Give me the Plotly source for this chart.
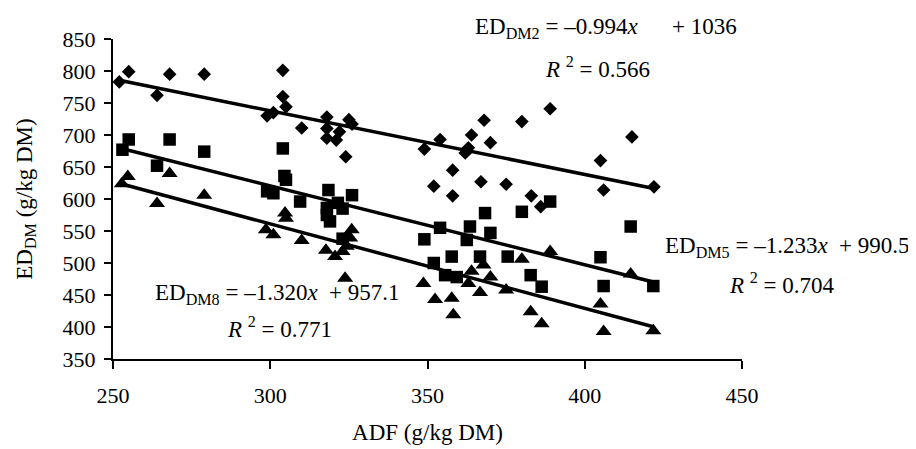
import plotly.graph_objects as go

# ---- data (ADF g/kg DM, ED g/kg DM) ----
dm2_x = [252, 255, 264, 268, 279, 299, 301, 304, 304, 305, 310, 318, 318, 318, 321, 322, 324, 325, 326,
         349, 352, 354, 358, 358, 362, 363, 364, 367, 368, 370, 375, 380, 383, 386, 389, 405, 406, 415, 422]
dm2_y = [783, 799, 762, 795, 795, 730, 735, 801, 760, 744, 711, 728, 710, 695, 692, 705, 666, 724, 717,
         678, 620, 693, 645, 605, 672, 680, 700, 627, 723, 688, 623, 721, 605, 588, 741, 660, 614, 697, 619]

dm5_x = [253, 255, 264, 268, 279, 304, 304.5, 305, 299, 301, 309.5, 318.5, 318, 318, 319, 321.5, 323, 326, 323,
         349, 354, 352, 357.7, 355.6, 359.3, 363.5, 362.5, 368.3, 370, 366.7, 375.5, 380, 389, 382.8, 386.3,
         414.6, 405, 406, 421.8]
dm5_y = [677, 693, 652, 693, 674, 679, 636, 630, 612, 609, 596, 614, 586, 575, 565, 594, 585, 606, 538,
         537, 555, 500, 510, 481, 478, 557, 536, 578, 547, 510, 510, 580, 596, 481, 463,
         557, 509, 464, 464]

dm8_x = [252.8, 254.7, 264, 268, 279, 298.6, 301, 304.7, 305, 310, 317.7, 320.6, 323.8, 325.9, 325.4, 324.3, 323,
         348.7, 352.4, 357.7, 358.2, 364, 363, 366.7, 370, 375, 367.8, 380, 389, 382.8, 386.3, 405, 406,
         414.6, 421.8]
dm8_y = [624, 635, 593, 640, 606, 552, 544, 578, 570, 535, 520, 510, 476, 552, 539, 526, 518,
         468, 443, 445, 419, 487, 468, 454, 478, 458, 497, 506, 518, 424, 405, 436, 393,
         483, 394]

# regression coefficients (slope, intercept, R^2)
fits = {
    "DM2": (-0.994, 1036, 0.566),
    "DM5": (-1.233, 990.5, 0.704),
    "DM8": (-1.320, 957.1, 0.771),
}

x_ticks = [250, 300, 350, 400, 450]
y_ticks = [350, 400, 450, 500, 550, 600, 650, 700, 750, 800, 850]

FONT = "Liberation Serif, Times New Roman, serif"

fig = go.Figure()

series = [
    ("DM2", dm2_x, dm2_y, "diamond", 10.5),
    ("DM5", dm5_x, dm5_y, "square", 12.5),
    ("DM8", dm8_x, dm8_y, "triangle-up", 14),
]
for name, xs, ys, sym, sz in series:
    fig.add_trace(go.Scatter(x=xs, y=ys, mode="markers", name=name,
                             marker=dict(symbol=sym, size=sz, color="black",
                                         line=dict(width=0)),
                             showlegend=False, cliponaxis=False))
for name, xs, ys, sym, sz in series:
    m, b, r2 = fits[name]
    x0, x1 = min(xs), max(xs)
    fig.add_trace(go.Scatter(x=[x0, x1], y=[m * x0 + b, m * x1 + b], mode="lines",
                             line=dict(color="black", width=3.5), showlegend=False,
                             hoverinfo="skip"))

# page body has an 8px default margin; size the figure so it fits the window
OFF = 8
W, H = 916 - OFF, 449 - OFF
# plot area in window pixels: x 113..742, y 39..359
PX0, PX1, PY0, PY1 = 113 - OFF, 742 - OFF, 39 - OFF, 359 - OFF
L, R, T, B = PX0, W - PX1, PY0, H - PY1
pw, ph = PX1 - PX0, PY1 - PY0


def px(xw):
    return (xw - OFF - PX0) / pw


def py(yw):
    return (PY1 - (yw - OFF)) / ph


def eq_text(name, gap):
    m, b, r2 = fits[name]
    sign = "–" if m < 0 else ""
    bs = f"{b:g}" if name == "DM2" else f"{b:.1f}"
    return f"ED<sub>{name}</sub> = {sign}{abs(m):.3f}<i>x</i>{gap} + {bs}"


def r2_text(name):
    return f"<i>R</i>\u00a0<sup>2</sup> = {fits[name][2]:.3f}"


ann_pos = {
    "DM2": ((473, 28), (543, 68), "\u00a0" * 5),
    "DM5": ((663, 247), (727, 283), "\u00a0"),
    "DM8": ((153, 294), (225, 327), "\u00a0"),
}
for name, ((ex, ey), (rx, ry), gap) in ann_pos.items():
    fig.add_annotation(x=px(ex), y=py(ey), xref="paper", yref="paper", text=eq_text(name, gap),
                       showarrow=False, xanchor="left", yanchor="middle",
                       font=dict(family=FONT, size=23, color="black"))
    fig.add_annotation(x=px(rx), y=py(ry), xref="paper", yref="paper", text=r2_text(name),
                       showarrow=False, xanchor="left", yanchor="middle",
                       font=dict(family=FONT, size=23, color="black"))

fig.update_layout(
    width=W, height=H,
    margin=dict(l=L, r=R, t=T, b=B, autoexpand=False),
    paper_bgcolor="white", plot_bgcolor="white",
    font=dict(family=FONT, size=22, color="black"),
    xaxis=dict(range=[250, 450], tickvals=x_ticks, ticktext=[str(v) for v in x_ticks],
               automargin=False,
               showgrid=False, zeroline=False, showline=True, linecolor="black", linewidth=2,
               ticks="outside", ticklen=8, tickwidth=2, tickcolor="black",
               ticklabelstandoff=8,
               title=dict(text="ADF (g/kg DM)", standoff=16, font=dict(size=23))),
    yaxis=dict(range=[350, 850], tickvals=y_ticks, ticktext=[str(v) for v in y_ticks],
               automargin=False,
               showgrid=False, zeroline=False, showline=True, linecolor="black", linewidth=2,
               ticks="outside", ticklen=7, tickwidth=2, tickcolor="black",
               ticklabelstandoff=4,
               title=dict(text="ED<sub>DM</sub> (g/kg DM)", standoff=24, font=dict(size=23))),
)

fig.write_html("out.html")
